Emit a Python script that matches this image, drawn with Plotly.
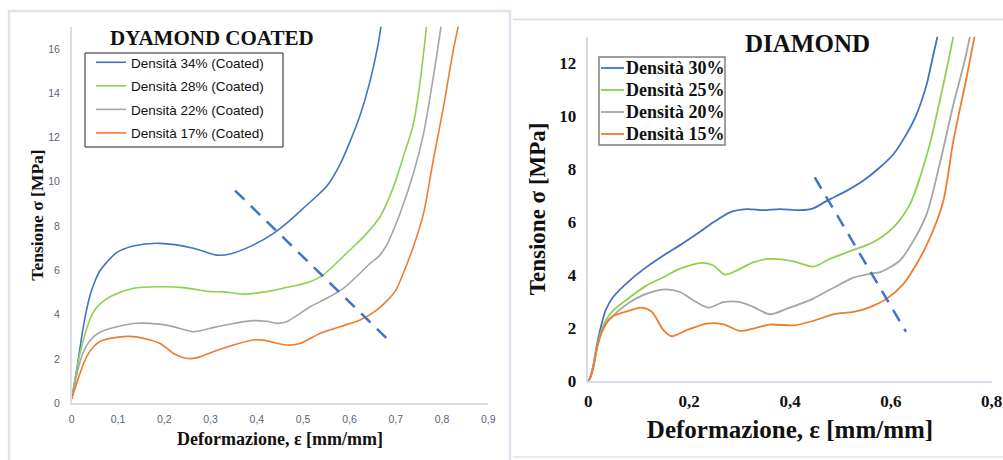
import plotly.graph_objects as go

# ---------------- Data: left panel (DYAMOND COATED) ----------------
coated_names = ["Densità 34% (Coated)", "Densità 28% (Coated)",
                "Densità 22% (Coated)", "Densità 17% (Coated)"]
c34_x = [0, 0.01, 0.02, 0.03, 0.04, 0.05, 0.06, 0.075, 0.097, 0.133, 0.191, 0.263, 0.313, 0.342,
         0.392, 0.436, 0.464, 0.508, 0.536, 0.551, 0.580, 0.601, 0.623, 0.644, 0.662, 0.67]
c34_y = [0.2, 1.4, 2.8, 4.0, 4.9, 5.5, 5.95, 6.35, 6.8, 7.1, 7.22, 7.0, 6.69, 6.74,
         7.14, 7.67, 8.12, 8.95, 9.48, 9.8, 10.8, 11.8, 13.0, 14.5, 16.2, 17.3]
c28_x = [0, 0.018, 0.036, 0.047, 0.062, 0.083, 0.133, 0.191, 0.241, 0.299, 0.328, 0.371, 0.421,
         0.454, 0.515, 0.543, 0.601, 0.637, 0.666, 0.695, 0.716, 0.738, 0.752, 0.768]
c28_y = [0.2, 2.26, 3.6, 4.13, 4.5, 4.81, 5.19, 5.26, 5.22, 5.04, 5.03, 4.93, 5.04,
         5.18, 5.49, 5.79, 6.92, 7.66, 8.42, 9.76, 11.1, 12.6, 14.4, 17.3]
c22_x = [0, 0.018, 0.032, 0.047, 0.062, 0.083, 0.133, 0.155, 0.205, 0.248, 0.263, 0.313, 0.349,
         0.392, 0.421, 0.443, 0.464, 0.493, 0.515, 0.536, 0.587, 0.644, 0.666, 0.680, 0.709,
         0.738, 0.760, 0.781, 0.800]
c22_y = [0.2, 1.88, 2.6, 3.0, 3.22, 3.38, 3.6, 3.62, 3.53, 3.3, 3.23, 3.45, 3.6,
         3.73, 3.7, 3.61, 3.68, 4.05, 4.36, 4.58, 5.19, 6.3, 6.69, 7.13, 8.56,
         10.36, 12.16, 14.7, 17.3]
c17_x = [0, 0.018, 0.032, 0.047, 0.062, 0.083, 0.119, 0.14, 0.191, 0.220, 0.248, 0.270, 0.306,
         0.349, 0.392, 0.414, 0.464, 0.493, 0.536, 0.580, 0.601, 0.623, 0.659, 0.680, 0.700,
         0.716, 0.738, 0.760, 0.781, 0.803, 0.824, 0.838]
c17_y = [0.2, 1.35, 2.1, 2.55, 2.8, 2.93, 3.02, 3.0, 2.7, 2.25, 2.03, 2.05, 2.33,
         2.63, 2.86, 2.85, 2.63, 2.7, 3.15, 3.46, 3.6, 3.76, 4.21, 4.6, 5.1,
         5.85, 7.06, 8.56, 10.96, 13.36, 15.9, 17.3]
coated_dash_x = [0.353, 0.688]
coated_dash_y = [9.6, 2.78]

# ---------------- Data: right panel (DIAMOND) ----------------
diamond_names = ["Densità 30%", "Densità 25%", "Densità 20%", "Densità 15%"]
d30_x = [0, 0.004, 0.010, 0.017, 0.025, 0.035, 0.0496, 0.083, 0.116, 0.149, 0.182, 0.215,
         0.248, 0.281, 0.314, 0.347, 0.380, 0.420, 0.446, 0.473, 0.512, 0.545, 0.578, 0.605,
         0.631, 0.651, 0.671, 0.684, 0.696]
d30_y = [0.0, 0.15, 0.6, 1.35, 2.05, 2.7, 3.18, 3.81, 4.31, 4.74, 5.13, 5.55,
         5.99, 6.37, 6.49, 6.45, 6.49, 6.45, 6.52, 6.8, 7.18, 7.56, 8.06, 8.56,
         9.32, 10.07, 11.2, 12.3, 13.3]
d25_x = [0, 0.004, 0.010, 0.017, 0.025, 0.035, 0.0496, 0.083, 0.116, 0.149, 0.182, 0.228,
         0.248, 0.271, 0.294, 0.327, 0.360, 0.407, 0.446, 0.479, 0.526, 0.565, 0.605, 0.638,
         0.658, 0.678, 0.697, 0.714, 0.727]
d25_y = [0.0, 0.15, 0.55, 1.25, 1.85, 2.3, 2.67, 3.17, 3.61, 3.92, 4.24, 4.46,
         4.36, 4.02, 4.17, 4.48, 4.61, 4.52, 4.32, 4.61, 4.95, 5.24, 5.80, 6.68,
         7.7, 9.0, 10.57, 12.07, 13.3]
d20_x = [0, 0.004, 0.010, 0.017, 0.025, 0.035, 0.0496, 0.083, 0.116, 0.155, 0.182, 0.208,
         0.238, 0.268, 0.301, 0.327, 0.360, 0.394, 0.446, 0.486, 0.526, 0.565, 0.579, 0.618,
         0.645, 0.671, 0.697, 0.724, 0.747, 0.760]
d20_y = [0.0, 0.15, 0.55, 1.25, 1.8, 2.2, 2.48, 2.98, 3.30, 3.46, 3.36, 3.05,
         2.77, 2.98, 2.98, 2.80, 2.52, 2.73, 3.11, 3.52, 3.90, 4.07, 4.11, 4.55,
         5.3, 6.3, 8.2, 10.44, 12.14, 13.3]
d15_x = [0, 0.004, 0.010, 0.017, 0.025, 0.035, 0.0496, 0.083, 0.106, 0.126, 0.149, 0.165,
         0.195, 0.235, 0.268, 0.301, 0.327, 0.360, 0.407, 0.446, 0.486, 0.526, 0.559, 0.592,
         0.625, 0.651, 0.678, 0.704, 0.724, 0.750, 0.769]
d15_y = [0.0, 0.12, 0.5, 1.2, 1.75, 2.15, 2.45, 2.67, 2.77, 2.61, 1.92, 1.69,
         1.92, 2.17, 2.14, 1.89, 1.98, 2.13, 2.10, 2.27, 2.52, 2.61, 2.79, 3.11,
         3.67, 4.42, 5.42, 6.8, 9.07, 11.45, 13.3]
diamond_dash_x = [0.449, 0.630]
diamond_dash_y = [7.69, 1.86]

colors = ["#4472C4", "#8FD14F", "#A5A5A5", "#ED7D31"]

fig = go.Figure()

left_series = [(c34_x, c34_y), (c28_x, c28_y), (c22_x, c22_y), (c17_x, c17_y)]
for (xs, ys), name, col in zip(left_series, coated_names, colors):
    fig.add_trace(go.Scatter(x=xs, y=ys, name=name, mode="lines",
                             line=dict(color=col, width=1.6, shape="spline", smoothing=0.8),
                             xaxis="x", yaxis="y", legend="legend", legendgroup=name))
fig.add_trace(go.Scatter(x=coated_dash_x, y=coated_dash_y, mode="lines", showlegend=False,
                         line=dict(color="#4472C4", width=2.5, dash="13px,9px"),
                         xaxis="x", yaxis="y"))

right_series = [(d30_x, d30_y), (d25_x, d25_y), (d20_x, d20_y), (d15_x, d15_y)]
for (xs, ys), name, col in zip(right_series, diamond_names, colors):
    fig.add_trace(go.Scatter(x=xs, y=ys, name=name, mode="lines", showlegend=False,
                             line=dict(color=col, width=1.8, shape="spline", smoothing=0.8),
                             xaxis="x2", yaxis="y2"))
fig.add_trace(go.Scatter(x=diamond_dash_x, y=diamond_dash_y, mode="lines", showlegend=False,
                         line=dict(color="#4472C4", width=2.5, dash="13px,9px"),
                         xaxis="x2", yaxis="y2"))

W, H = 1003, 460
serif = "Liberation Serif"
sans = "Liberation Sans"
tick_gray = "#5a6577"


def px_x(v):
    return v / W


def px_y(v):
    return (H - v) / H


# right-panel legend (drawn as key lines + text inside a framed box)
leg2_rows = [68, 90, 112, 134]
leg2_shapes = [dict(type="rect", xref="paper", yref="paper", x0=px_x(599), x1=px_x(725),
                    y0=px_y(145), y1=px_y(57), line=dict(color="#808080", width=1.5),
                    fillcolor="white", layer="above")]
leg2_annots = []
for row, name, col in zip(leg2_rows, diamond_names, colors):
    leg2_shapes.append(dict(type="line", xref="paper", yref="paper", x0=px_x(601), x1=px_x(624),
                            y0=px_y(row), y1=px_y(row), line=dict(color=col, width=1.8),
                            layer="above"))
    leg2_annots.append(dict(text=name, x=px_x(624), y=px_y(row), xref="paper", yref="paper",
                            showarrow=False, xanchor="left", yanchor="middle",
                            font=dict(family=serif, size=18, color="#111111", weight="bold")))

fig.update_layout(
    width=W, height=H, margin=dict(l=0, r=0, t=0, b=0, autoexpand=False),
    paper_bgcolor="white", plot_bgcolor="white",
    separators=",.",
    xaxis=dict(domain=[71.7 / W, 488.3 / W], range=[0, 0.9], dtick=0.1, automargin=False,
               showgrid=False, zeroline=False, showline=True, linecolor="#d9dde3", linewidth=1.5,
               ticks="", ticklabelstandoff=5,
               tickfont=dict(family=sans, size=10.5, color=tick_gray),
               title=dict(text="Deformazione, ε [mm/mm]", standoff=9,
                          font=dict(family=serif, size=18, color="#111111", weight="bold")),
               anchor="y"),
    yaxis=dict(domain=[(H - 403.3) / H, (H - 26.7) / H], range=[0, 17], dtick=2, automargin=False,
               showgrid=False, zeroline=False, showline=True, linecolor="#d9dde3", linewidth=1.5,
               ticks="", ticklabelstandoff=8,
               tickfont=dict(family=sans, size=10.5, color=tick_gray),
               title=dict(text="Tensione σ [MPa]", standoff=0,
                          font=dict(family=serif, size=17.5, color="#111111", weight="bold")),
               anchor="x"),
    xaxis2=dict(domain=[588.3 / W, 991.7 / W], range=[0, 0.8], dtick=0.2, automargin=False,
                showgrid=False, zeroline=False, showline=True, linecolor="#d6dce6", linewidth=1.5,
                ticks="", ticklabelstandoff=4,
                tickfont=dict(family=serif, size=17, color="#111111", weight="bold"),
                title=dict(text="Deformazione, ε [mm/mm]", standoff=10,
                           font=dict(family=serif, size=25, color="#111111", weight="bold")),
                anchor="y2"),
    yaxis2=dict(domain=[(H - 381) / H, (H - 36.7) / H], range=[0, 13], dtick=2, automargin=False,
                showgrid=False, zeroline=False, showline=True, linecolor="#d6dce6", linewidth=1.5,
                ticks="", ticklabelstandoff=7,
                tickfont=dict(family=serif, size=17, color="#111111", weight="bold"),
                title=dict(text="Tensione σ [MPa]", standoff=7,
                           font=dict(family=serif, size=23, color="#111111", weight="bold")),
                anchor="x2"),
    legend=dict(x=px_x(91), y=px_y(47), xanchor="left", yanchor="top",
                bgcolor="rgba(0,0,0,0)", borderwidth=0,
                font=dict(family=sans, size=13.5, color="#111111"),
                traceorder="grouped", tracegroupgap=3),
    showlegend=True,
    annotations=[
        dict(text="DYAMOND COATED", x=px_x(212), y=px_y(38), xref="paper", yref="paper",
             showarrow=False, xanchor="center", yanchor="middle",
             font=dict(family=serif, size=21, color="#111111", weight="bold")),
        dict(text="DIAMOND", x=px_x(807), y=px_y(43), xref="paper", yref="paper",
             showarrow=False, xanchor="center", yanchor="middle",
             font=dict(family=serif, size=25, color="#111111", weight="bold")),
    ] + leg2_annots,
    shapes=[
        dict(type="rect", xref="paper", yref="paper", x0=px_x(9), x1=px_x(510),
             y0=-0.02, y1=px_y(11), line=dict(color="#dde3ea", width=2.5)),
        dict(type="line", xref="paper", yref="paper", x0=px_x(513), x1=1.0,
             y0=px_y(19.5), y1=px_y(19.5), line=dict(color="#d9d9d9", width=1.5)),
        dict(type="line", xref="paper", yref="paper", x0=px_x(513), x1=1.0,
             y0=px_y(457), y1=px_y(457), line=dict(color="#e3e3e3", width=1.5)),
        dict(type="rect", xref="paper", yref="paper", x0=px_x(85), x1=px_x(283),
             y0=px_y(147), y1=px_y(53), line=dict(color="#222222", width=1),
             fillcolor="white", layer="above"),
    ] + leg2_shapes,
)

fig.write_html("out.html", config={"displayModeBar": False},
               post_script="document.body.style.margin='0';document.body.style.overflow='hidden';")
